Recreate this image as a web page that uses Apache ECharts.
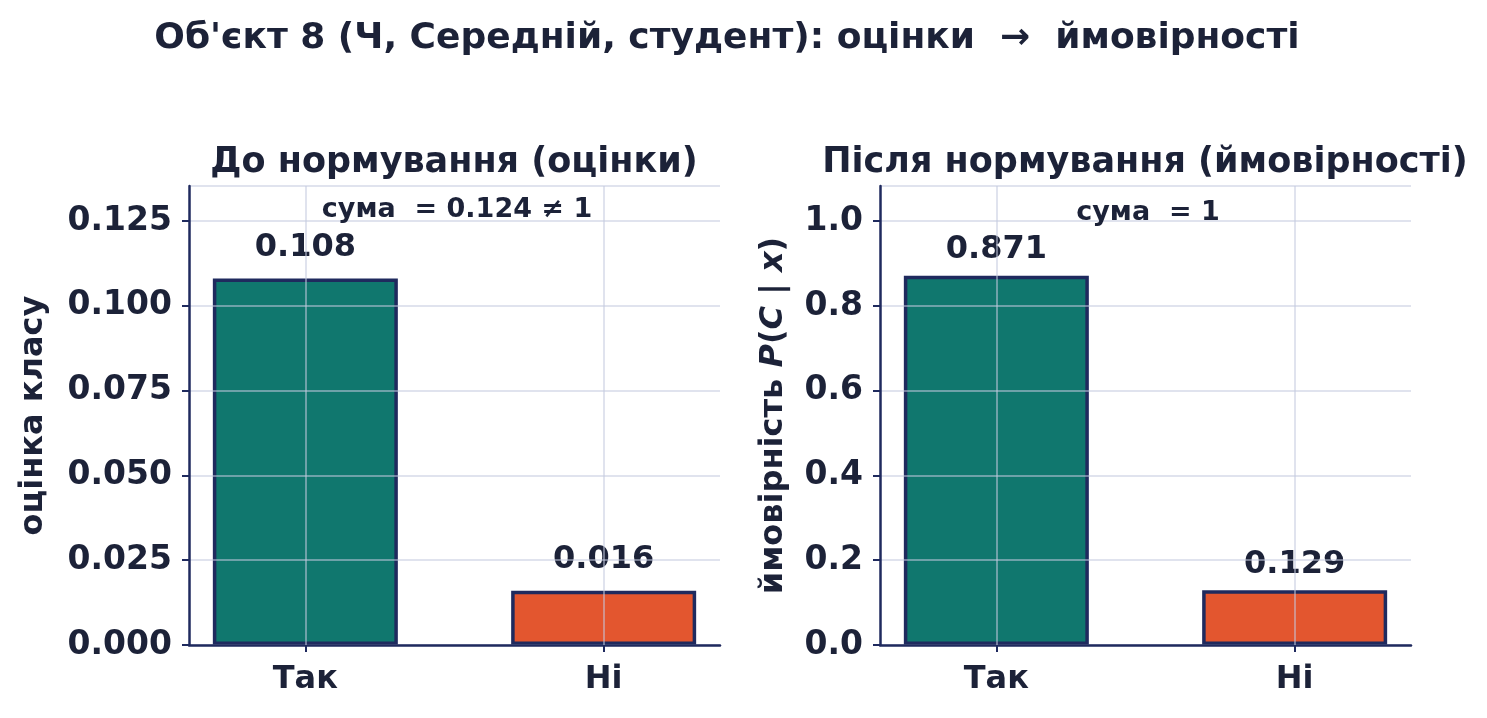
<!DOCTYPE html>
<html>
<head>
    <meta charset="UTF-8">
    <title></title>
    <style>
        html, body { margin: 0; padding: 0; background: #fff; }
        #container { width: 1487px; height: 718px; }
    </style>
</head>
<body>
    <div id="container"></div>
    <script src="https://cdn.jsdelivr.net/npm/echarts@6/dist/echarts.min.js"></script>
    <script>
        var categories = ['Так', 'Ні'];
        var scores = [0.108, 0.016];          // до нормування
        var probs = [0.871, 0.129];           // після нормування
        var barColors = ['#10776e', '#e3562f'];
        var leftTicks = { min: 0, max: 0.1353, interval: 0.025 };
        var rightTicks = { min: 0, max: 1.083, interval: 0.2 };

        var ink = '#1c2238';
        var navy = '#1f2a5e';
        var gridCol = 'rgba(196,202,224,0.7)';
        var font = 'DejaVu Sans';

        function barSeries(idx, vals, dist) {
            return {
                type: 'bar',
                xAxisIndex: idx,
                yAxisIndex: idx,
                barWidth: 185,
                data: vals.map(function (v, i) {
                    return {
                        value: [i, v],
                        itemStyle: { color: barColors[i], borderColor: navy, borderWidth: 3.5 }
                    };
                }),
                label: {
                    show: true,
                    position: 'top',
                    distance: dist,
                    fontFamily: font,
                    fontWeight: 'bold',
                    fontSize: 32,
                    color: ink,
                    formatter: function (p) { return p.value[1].toFixed(3); }
                },
                markLine: {
                    silent: true,
                    symbol: 'none',
                    label: { show: false },
                    lineStyle: { color: gridCol, type: 'solid', width: 1.5 },
                    data: categories.map(function (c, i) { return { xAxis: i }; })
                }
            };
        }

        function xAxisOpt(idx) {
            return {
                type: 'value',
                gridIndex: idx,
                min: -0.39,
                max: 1.39,
                z: 4,
                splitLine: { show: false },
                axisLine: { show: true, lineStyle: { color: navy, width: 2.5 } },
                axisTick: { show: true, customValues: [0, 1], length: 7, lineStyle: { color: navy, width: 2 } },
                axisLabel: {
                    customValues: [0, 1],
                    formatter: function (v) { return categories[Math.round(v)]; },
                    fontFamily: font, fontWeight: 'bold', fontSize: 32, color: ink, margin: 19
                }
            };
        }

        function yAxisOpt(idx, t, digits, name, gap, rich) {
            return {
                type: 'value',
                gridIndex: idx,
                min: t.min,
                max: t.max,
                interval: t.interval,
                z: 3,
                name: name,
                nameLocation: 'middle',
                nameGap: gap,
                nameTextStyle: {
                    fontFamily: font, fontWeight: 'bold', fontSize: 32, color: ink,
                    rich: rich
                },
                splitLine: { show: true, lineStyle: { color: gridCol, width: 1.5 } },
                axisLine: { show: true, onZero: false, lineStyle: { color: navy, width: 2.5 } },
                axisTick: { show: true, length: 7, lineStyle: { color: navy, width: 2 } },
                axisLabel: {
                    formatter: function (v) { return v.toFixed(digits); },
                    fontFamily: font, fontWeight: 'bold', fontSize: 33, color: ink, margin: 17,
                    showMaxLabel: false
                }
            };
        }

        var richName = {
            a: { fontFamily: font, fontWeight: 'bold', fontSize: 32, color: ink },
            i: { fontFamily: font, fontWeight: 'bold', fontStyle: 'italic', fontSize: 32, color: ink }
        };

        var myChart = echarts.init(document.getElementById('container'));
        myChart.setOption({
            backgroundColor: '#fff',
            animation: false,
            title: [
                {
                    text: "Об'єкт 8 (Ч, Середній, студент): оцінки  \u2192  ймовірності",
                    left: 722, top: 16, textAlign: 'center',
                    textStyle: { fontFamily: font, fontWeight: 'bold', fontSize: 36, color: ink }
                },
                {
                    text: 'До нормування (оцінки)',
                    left: 449, top: 140, textAlign: 'center',
                    textStyle: { fontFamily: font, fontWeight: 'bold', fontSize: 35, color: ink }
                },
                {
                    text: 'Після нормування (ймовірності)',
                    left: 1140, top: 140, textAlign: 'center',
                    textStyle: { fontFamily: font, fontWeight: 'bold', fontSize: 35, color: ink }
                },
                {
                    text: 'сума  = 0.124 \u2260 1',
                    left: 452, top: 191, textAlign: 'center',
                    textStyle: { fontFamily: font, fontWeight: 'bold', fontSize: 27, color: ink }
                },
                {
                    text: 'сума  = 1',
                    left: 1143, top: 194, textAlign: 'center',
                    textStyle: { fontFamily: font, fontWeight: 'bold', fontSize: 27, color: ink }
                }
            ],
            grid: [
                { left: 189, top: 186, width: 531, height: 459 },
                { left: 880, top: 186, width: 531, height: 459 }
            ],
            xAxis: [xAxisOpt(0), xAxisOpt(1)],
            yAxis: [
                yAxisOpt(0, leftTicks, 3, 'оцінка класу', 139, null),
                yAxisOpt(1, rightTicks, 1,
                    '{a|ймовірність }{i|P}{a|(}{i|C}{a| | }{i|x}{a|)}', 90, richName)
            ],
            series: [
                barSeries(0, scores, 15),
                barSeries(1, probs, 10)
            ]
        });
    </script>
</body>
</html>
